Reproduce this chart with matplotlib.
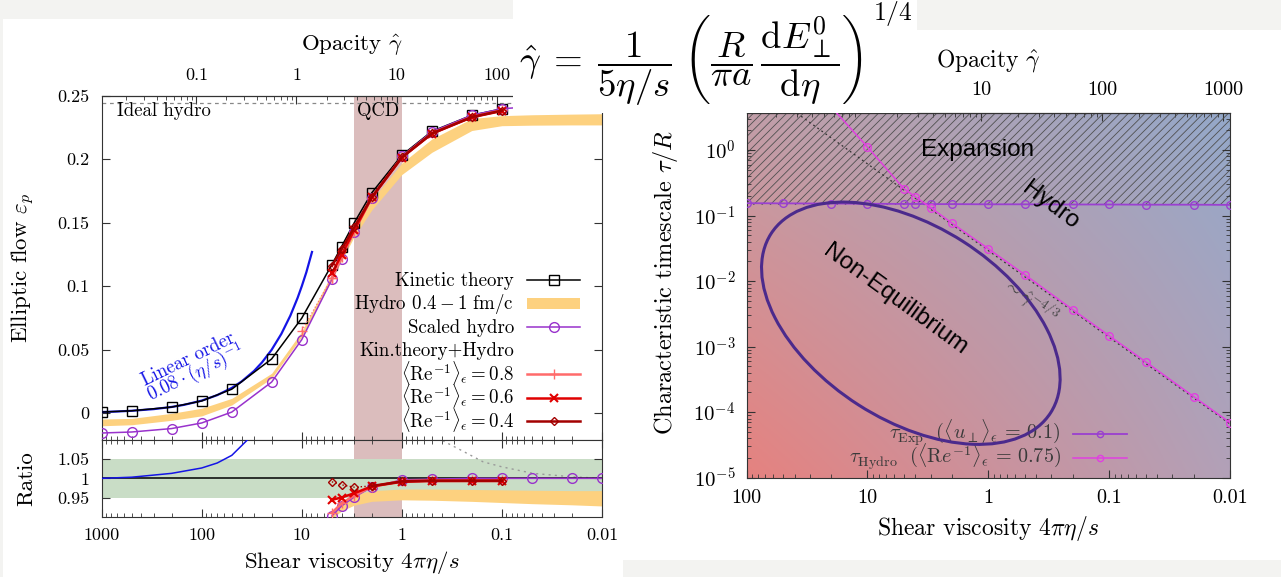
import numpy as np
import matplotlib
matplotlib.use('Agg')
import matplotlib.pyplot as plt
import matplotlib.transforms as mtransforms
from matplotlib.patches import Rectangle, Ellipse
from matplotlib.lines import Line2D
from matplotlib.ticker import FixedLocator, FuncFormatter, LogLocator, NullFormatter

plt.rcParams['font.family'] = ['cmr10', 'DejaVu Serif']
plt.rcParams['mathtext.fontset'] = 'cm'
plt.rcParams['axes.unicode_minus'] = False
plt.rcParams['hatch.linewidth'] = 0.6

# ---------------- left panel data (x = 4 pi eta/s) ----------------
eta_kin = [1000, 500, 200, 100, 50, 20, 10, 5, 4, 3, 2, 1, 0.5, 0.2, 0.1]
v2_kin = [0.001, 0.002, 0.0049, 0.0097, 0.019, 0.0428, 0.0749, 0.117, 0.1313,
          0.1498, 0.1735, 0.2031, 0.222, 0.2346, 0.2397]

eta_scaled = [1000, 500, 200, 100, 50, 20, 10, 5, 4, 3, 2, 1, 0.5, 0.2, 0.1, 0.05, 0.02, 0.01]
v2_scaled = [-0.0155, -0.0147, -0.012, -0.0076, 0.001, 0.0246, 0.058, 0.1055, 0.1218,
             0.1425, 0.1695, 0.2023, 0.2216, 0.2346, 0.2397, 0.2415, 0.2425, 0.243]

eta_band = [1000, 500, 200, 100, 50, 20, 10, 5, 4, 3, 2, 1, 0.5, 0.2, 0.1, 0.05, 0.02, 0.01]
v2_band_lo = [-0.0098, -0.009, -0.0055, -0.002, 0.0066, 0.0276, 0.0604, 0.105, 0.12,
              0.139, 0.16, 0.188, 0.2055, 0.2226, 0.2264, 0.2268, 0.227, 0.227]
v2_band_hi = [-0.0045, -0.004, 0.0, 0.004, 0.0118, 0.0315, 0.0644, 0.11, 0.126,
              0.145, 0.168, 0.197, 0.216, 0.232, 0.2343, 0.235, 0.2355, 0.2358]

eta_kh = [5, 4, 3, 2, 1, 0.5, 0.2, 0.1]
v2_re08 = [0.1065, 0.1228, 0.1431, 0.1697, 0.2017, 0.2205, 0.2334, 0.2385]
v2_re06 = [0.1104, 0.1247, 0.144, 0.1699, 0.2013, 0.2201, 0.233, 0.238]
v2_re04 = [0.116, 0.129, 0.1464, 0.170, 0.2015, 0.2203, 0.2332, 0.2383]
eta_re08_early = [10, 5]
v2_re08_early = [0.065, 0.1065]

eta_lin = [1000, 700, 500, 300, 200, 150, 100, 70, 50, 40, 30, 25, 20, 16, 13, 11, 10, 9, 7.9]
v2_lin = [0.001, 0.00143, 0.002, 0.00333, 0.005, 0.00667, 0.01, 0.0143, 0.02, 0.025,
          0.0333, 0.04, 0.05, 0.0625, 0.0769, 0.0909, 0.1, 0.111, 0.127]

v2_ideal = 0.2443
qcd_range = (1, 3)

# ratio panel
eta_r_lin = [1000, 500, 200, 100, 70, 50, 40, 35]
r_lin = [1.0, 1.003, 1.013, 1.027, 1.04, 1.06, 1.085, 1.1]
eta_r_scaled = [5, 4, 3, 2, 1, 0.5, 0.2, 0.1, 0.05, 0.02, 0.01]
r_scaled = [0.902, 0.928, 0.951, 0.977, 0.996, 0.998, 1.0, 1.0, 1.0, 1.0, 1.0]
r_re08 = [0.91, 0.935, 0.955, 0.978, 0.993, 0.995, 0.995, 0.995]
r_re06 = [0.944, 0.95, 0.961, 0.979, 0.991, 0.993, 0.993, 0.993]
r_re04 = [0.991, 0.983, 0.977, 0.98, 0.992, 0.994, 0.994, 0.994]
eta_r_band = [5, 4, 3, 2, 1, 0.5, 0.2, 0.1, 0.05, 0.02, 0.01]
r_band_lo = [0.895, 0.915, 0.93, 0.94, 0.944, 0.943, 0.94, 0.937, 0.934, 0.931, 0.928]
r_band_hi = [0.915, 0.94, 0.958, 0.968, 0.972, 0.972, 0.971, 0.97, 0.969, 0.968, 0.968]
eta_r_ideal = [0.5, 0.37, 0.25, 0.154, 0.1, 0.049, 0.02, 0.01]
r_ideal = [1.115, 1.095, 1.072, 1.043, 1.03, 1.013, 1.004, 1.0]
ratio_ok = (0.95, 1.05)

# ---------------- right panel data ----------------
eta_exp = [100, 50, 20, 10, 5, 4, 3, 2, 1, 0.5, 0.2, 0.1, 0.05, 0.02, 0.01]
tau_exp = [0.155, 0.154, 0.153, 0.152, 0.151, 0.151, 0.15, 0.15, 0.149, 0.149, 0.148,
           0.148, 0.147, 0.147, 0.146]
eta_hyd = [20, 10, 5, 4, 3, 2, 1, 0.5, 0.2, 0.1, 0.05, 0.02, 0.01]
tau_hyd = [4.6, 1.12, 0.259, 0.193, 0.133, 0.077, 0.0313, 0.0126, 0.00367, 0.00147,
           5.9e-4, 1.73e-4, 6.9e-5]
eta_pow = [38.2, 0.01]
tau_pow = [3.65, 6.6e-5]
# non-equilibrium ellipse: centre (eta, tau), semi-axes in pixels, tilt
ell_center = (4.37, 2.28e-3)
ell_axes = (166, 97)
ell_angle = -32.6

c_left = 11.3    # opacity = c / (4 pi eta/s)
c_right = 11.4

# colours
orange = '#fdd17f'
purple = '#9932cc'
qcd_col = '#dbbdbd'
green = '#c9ddc6'
blue = '#1414e6'
red08, red06, red04 = '#ff6b6b', '#e00000', '#a30000'
c_exp, c_hyd = '#9a40d0', '#e040e0'

W, H = 1281, 577
def fx(x):
    return x / W
def fy(y):
    return 1 - y / H

fig = plt.figure(figsize=(W / 100, H / 100), dpi=100, facecolor='#f3f3f1')
fig.add_artist(Rectangle((fx(3), 0), fx(623) - fx(3), fy(19), transform=fig.transFigure,
                         facecolor='white', edgecolor='none', zorder=-5))
fig.add_artist(Rectangle((fx(623), fy(560)), 1 - fx(623), fy(30) - fy(560),
                         transform=fig.transFigure, facecolor='white', edgecolor='none', zorder=-5))
fig.add_artist(Rectangle((fx(513), fy(113)), fx(917) - fx(513), 1 - fy(113),
                         transform=fig.transFigure, facecolor='white', edgecolor='none', zorder=5))

tick_fs = 13
lab_fs = 16.5


def style_axis(a, fs=tick_fs):
    a.tick_params(which='both', direction='in', top=False, right=True, labelsize=fs,
                  color='#333333')
    a.tick_params(which='major', length=6)
    a.tick_params(which='minor', length=3)
    for s in a.spines.values():
        s.set_color('#333333')


def key_row(x_text, x1, x2, y, label, fs, tcolor='black', z=3, line=None, patch=None):
    # one gnuplot style key entry: right aligned label, sample to its right
    fig.text(fx(x_text), fy(y + 6), label, ha='right', va='baseline', fontsize=fs,
             color=tcolor, zorder=z)
    if line is not None:
        fig.add_artist(Line2D([fx(x1), fx((x1 + x2) / 2), fx(x2)], [fy(y)] * 3,
                              transform=fig.transFigure, markevery=[1], zorder=z, **line))
    if patch is not None:
        fig.add_artist(Rectangle((fx(x1), fy(y + 5)), fx(x2) - fx(x1), fy(y - 5) - fy(y + 5),
                                 transform=fig.transFigure, facecolor=patch, edgecolor='none',
                                 zorder=z))


gfmt = FuncFormatter(lambda v, p: '%g' % v)

# ---------------- left: main ----------------
ax = fig.add_axes([fx(101.6), fy(440), (602 - 101.6) / W, (440 - 95.7) / H])
axr = fig.add_axes([fx(101.6), fy(516.7), (602 - 101.6) / W, (516.7 - 440) / H])
for a in (ax, axr):
    a.set_xscale('log')
    a.set_xlim(1000, 0.01)
    style_axis(a)
    a.axvspan(qcd_range[0], qcd_range[1], color=qcd_col, lw=0, zorder=0)
    a.xaxis.set_major_locator(FixedLocator([1000, 100, 10, 1, 0.1, 0.01]))
    a.xaxis.set_minor_locator(LogLocator(subs=np.arange(2, 10)))
    a.xaxis.set_minor_formatter(NullFormatter())
ax.tick_params(labelbottom=False)
axr.tick_params(top=True, which='both')
axr.xaxis.set_major_formatter(gfmt)

ax.set_ylim(-0.021, 0.25)
ax.set_yticks([0, 0.05, 0.1, 0.15, 0.2, 0.25])
ax.yaxis.set_major_formatter(gfmt)
ax.tick_params(axis='y', pad=9)

ax.axhline(v2_ideal, color='#888888', lw=0.9, ls=(0, (3, 3)), zorder=1)
ax.fill_between(eta_band, v2_band_lo, v2_band_hi, color=orange, lw=0, zorder=2)
ax.plot(eta_lin, v2_lin, color=blue, lw=1.6, zorder=3)
st_kin = dict(color='black', marker='s', mfc='none', ms=7, lw=1.1)
st_sc = dict(color=purple, marker='o', mfc='none', ms=7, lw=1.1)
st_08 = dict(color=red08, marker='+', ms=7, lw=1.8)
st_06 = dict(color=red06, marker='x', ms=6, mew=1.5, lw=1.8)
st_04 = dict(color=red04, marker='D', mfc='none', ms=4.5, lw=1.8)
ax.plot(eta_kin, v2_kin, zorder=4, **st_kin)
ax.plot(eta_scaled, v2_scaled, zorder=4, **st_sc)
ax.plot(eta_re08_early, v2_re08_early, color=red08, marker='+', ms=7, lw=0.9, ls=':', zorder=5)
ax.plot(eta_kh, v2_re08, zorder=5, **st_08)
ax.plot(eta_kh, v2_re06, zorder=5, **st_06)
ax.plot(eta_kh, v2_re04, zorder=5, **st_04)

ax.text(0.031, 0.955, 'Ideal hydro', transform=ax.transAxes, fontsize=13.5, va='center')
ax.text(0.553, 0.955, 'QCD', transform=ax.transAxes, fontsize=13.5, va='center', ha='center')
fig.text(fx(188), fy(359), 'Linear order', color=blue, fontsize=13.5, rotation=26,
         ha='center', va='center')
fig.text(fx(196), fy(374), r'$0.08\cdot(\eta/s)^{-1}$', color=blue, fontsize=13.5, rotation=26,
         ha='center', va='center')

ax.set_ylabel(r'Elliptic flow $\varepsilon_p$', fontsize=lab_fs)
ax.yaxis.set_label_coords(-0.13, 0.5)

# key of the left panel
key_fs = 13.6
key_y0, key_dy = 280, 23.5
key_row(514, 527, 580, key_y0, 'Kinetic theory', key_fs, line=st_kin)
key_row(514, 527, 580, key_y0 + key_dy, r'Hydro $0.4-1$ fm/c', key_fs, patch=orange)
key_row(514, 527, 580, key_y0 + 2 * key_dy, 'Scaled hydro', key_fs, line=st_sc)
key_row(514, 527, 580, key_y0 + 3 * key_dy, 'Kin.theory+Hydro', key_fs)
key_row(514, 527, 580, key_y0 + 4 * key_dy, r'$\langle\mathrm{Re}^{-1}\rangle_\epsilon = 0.8$',
        key_fs, line=st_08)
key_row(514, 527, 580, key_y0 + 5 * key_dy, r'$\langle\mathrm{Re}^{-1}\rangle_\epsilon = 0.6$',
        key_fs, line=st_06)
key_row(514, 527, 580, key_y0 + 6 * key_dy, r'$\langle\mathrm{Re}^{-1}\rangle_\epsilon = 0.4$',
        key_fs, line=st_04)

sec = ax.secondary_xaxis('top', functions=(lambda e: c_left / e, lambda g: c_left / g))
sec.xaxis.set_major_locator(FixedLocator([0.1, 1, 10, 100]))
sec.xaxis.set_major_formatter(gfmt)
sec.xaxis.set_minor_locator(LogLocator(subs=np.arange(2, 10)))
sec.xaxis.set_minor_formatter(NullFormatter())
sec.tick_params(which='both', direction='in', labelsize=tick_fs, pad=9, color='#333333')
sec.tick_params(which='major', length=6)
sec.tick_params(which='minor', length=3)
fig.text(fx(352), fy(45), r'Opacity $\hat{\gamma}$', fontsize=lab_fs, ha='center', va='center')

# ---------------- left: ratio ----------------
axr.set_ylim(0.9, 1.1)
axr.set_yticks([0.95, 1, 1.05])
axr.yaxis.set_major_formatter(gfmt)
axr.tick_params(axis='y', pad=9)
axr.tick_params(axis='x', pad=8)
axr.axhspan(ratio_ok[0], ratio_ok[1], color=green, lw=0, zorder=0.5)
axr.axhline(1.0, color='black', lw=1.1, zorder=3)
axr.fill_between(eta_r_band, r_band_lo, r_band_hi, color=orange, lw=0, zorder=2)
axr.plot(eta_r_lin, r_lin, color=blue, lw=1.1, zorder=3)
axr.plot(eta_r_ideal, r_ideal, color='#999999', lw=1.0, ls=(0, (1.5, 3)), zorder=2)
axr.plot(eta_r_scaled, r_scaled, zorder=4, **st_sc)
axr.plot(eta_kh, r_re08, zorder=5, **st_08)
axr.plot(eta_kh, r_re06, zorder=5, **st_06)
axr.plot(eta_kh[:4], r_re04[:4], color=red04, marker='D', mfc='none', ms=4.5, lw=1.0,
         ls=':', zorder=5)
axr.plot(eta_kh[3:], r_re04[3:], zorder=5, **st_04)
axr.set_ylabel('Ratio', fontsize=lab_fs)
axr.yaxis.set_label_coords(-0.13, 0.5)
axr.set_xlabel(r'Shear viscosity $4\pi\eta/s$', fontsize=lab_fs)
axr.xaxis.set_label_coords(0.5, -0.42)

# ---------------- formula ----------------
fig.text(fx(519), fy(60),
         r'$\hat{\gamma}\;=\;\dfrac{1}{5\eta/s}\;{\left(\dfrac{R}{\pi a}\,'
         r'\dfrac{\mathrm{d}E_\perp^0}{\mathrm{d}\eta}\right)}$',
         fontsize=26.5, ha='left', va='center', zorder=6)
fig.text(fx(893), fy(14), r'$1/4$', fontsize=18.5, ha='center', va='center', zorder=6)

# ---------------- right panel ----------------
pos = [fx(746.5), fy(477.7), (1230 - 746.5) / W, (477.7 - 113.3) / H]
bg = fig.add_axes(pos, zorder=-1)
gx, gy = np.meshgrid(np.linspace(0, 1, 200), np.linspace(0, 1, 200))
c_bl = np.array([0.90, 0.51, 0.50])
c_br = np.array([0.70, 0.63, 0.72])
c_tl = np.array([0.76, 0.62, 0.66])
c_tr = np.array([0.58, 0.66, 0.79])
img = ((1 - gx)[..., None] * (1 - gy)[..., None] * c_bl + gx[..., None] * (1 - gy)[..., None] * c_br
       + (1 - gx)[..., None] * gy[..., None] * c_tl + gx[..., None] * gy[..., None] * c_tr)
bg.imshow(img, origin='lower', extent=[0, 1, 0, 1], aspect='auto')
bg.set_axis_off()

rt_fs = 14.5
ax2 = fig.add_axes(pos)
ax2.patch.set_alpha(0)
ax2.set_xscale('log')
ax2.set_yscale('log')
ax2.set_xlim(100, 0.01)
ax2.set_ylim(1e-5, 3.65)
style_axis(ax2, rt_fs)
ax2.xaxis.set_major_locator(FixedLocator([100, 10, 1, 0.1, 0.01]))
ax2.xaxis.set_major_formatter(gfmt)
ax2.xaxis.set_minor_locator(LogLocator(subs=np.arange(2, 10)))
ax2.xaxis.set_minor_formatter(NullFormatter())
ax2.yaxis.set_major_locator(LogLocator(numticks=10))
ax2.yaxis.set_major_formatter(FuncFormatter(lambda v, p: r'$10^{%d}$' % round(np.log10(v))))
ax2.yaxis.set_minor_locator(LogLocator(subs=np.arange(2, 10), numticks=10))
ax2.yaxis.set_minor_formatter(NullFormatter())
ax2.tick_params(axis='y', pad=8, labelsize=15)
ax2.tick_params(axis='x', pad=8)

ax2.axhspan(tau_exp[-1], 10, facecolor='none', edgecolor='#505050', hatch='////', lw=0, zorder=1)
ax2.plot(eta_pow, tau_pow, color='#333333', lw=0.9, ls=(0, (1.5, 2.5)), zorder=3)
st_exp = dict(color=c_exp, marker='o', mfc='none', ms=5.5, lw=1.3)
st_hyd = dict(color=c_hyd, marker='o', mfc='none', ms=5.5, lw=1.1)
ax2.plot(eta_exp, tau_exp, zorder=4, **st_exp)
ax2.plot(eta_hyd, tau_hyd, zorder=4, **st_hyd)

tr = fig.dpi_scale_trans + mtransforms.ScaledTranslation(ell_center[0], ell_center[1], ax2.transData)
ax2.add_patch(Ellipse((0, 0), 2 * ell_axes[0] / 100, 2 * ell_axes[1] / 100, angle=ell_angle,
                      transform=tr, facecolor='none', edgecolor='#4b2a8c', lw=2.2, zorder=5))

sans = 'Liberation Sans'
fig.text(fx(978), fy(150), 'Expansion', family=sans, fontsize=17.5, ha='center', va='center')
fig.text(fx(1050), fy(206), 'Hydro', family=sans, fontsize=17.5, ha='center', va='center',
         rotation=-37)
fig.text(fx(895), fy(300), 'Non-Equilibrium', family=sans, fontsize=17.5, ha='center',
         va='center', rotation=-36)
fig.text(fx(1030), fy(300), r'$\sim\hat{\gamma}^{-4/3}$', fontsize=13.5, color='#444444',
         ha='center', va='center', rotation=-36)

# key of the right panel, drawn underneath the ellipse
st_exp_key = dict(st_exp, ms=4.5)
st_hyd_key = dict(st_hyd, ms=4.5)
key_row(1060.6, 1073, 1127, 433.5,
        r'$\tau_{\rm Exp}\ \ (\langle u_\perp\rangle_\epsilon\,=\,0.1)$', 14.5,
        tcolor='#3a3a3a', z=-0.5, line=st_exp_key)
key_row(1060.6, 1073, 1127, 457.5,
        r'$\tau_{\rm Hydro}\ \ (\langle \mathrm{R}e^{-1}\rangle_\epsilon\,=\,0.75)$', 14.5,
        tcolor='#3a3a3a', z=-0.5, line=st_hyd_key)

ax2.set_ylabel(r'Characteristic timescale $\tau/R$', fontsize=17.5)
ax2.yaxis.set_label_coords(-0.137, 0.535)
ax2.set_xlabel(r'Shear viscosity $4\pi\eta/s$', fontsize=17)
ax2.xaxis.set_label_coords(0.5, -0.1)

sec2 = ax2.secondary_xaxis('top', functions=(lambda e: c_right / e, lambda g: c_right / g))
sec2.xaxis.set_major_locator(FixedLocator([10, 100, 1000]))
sec2.xaxis.set_major_formatter(gfmt)
sec2.xaxis.set_minor_locator(LogLocator(subs=np.arange(2, 10)))
sec2.xaxis.set_minor_formatter(NullFormatter())
sec2.tick_params(which='both', direction='in', labelsize=rt_fs, pad=10, color='#333333')
sec2.tick_params(which='major', length=6)
sec2.tick_params(which='minor', length=3)
fig.text(fx(988), fy(60), r'Opacity $\hat{\gamma}$', fontsize=17, ha='center', va='center')

fig.savefig('out.png', dpi=100, facecolor=fig.get_facecolor())
